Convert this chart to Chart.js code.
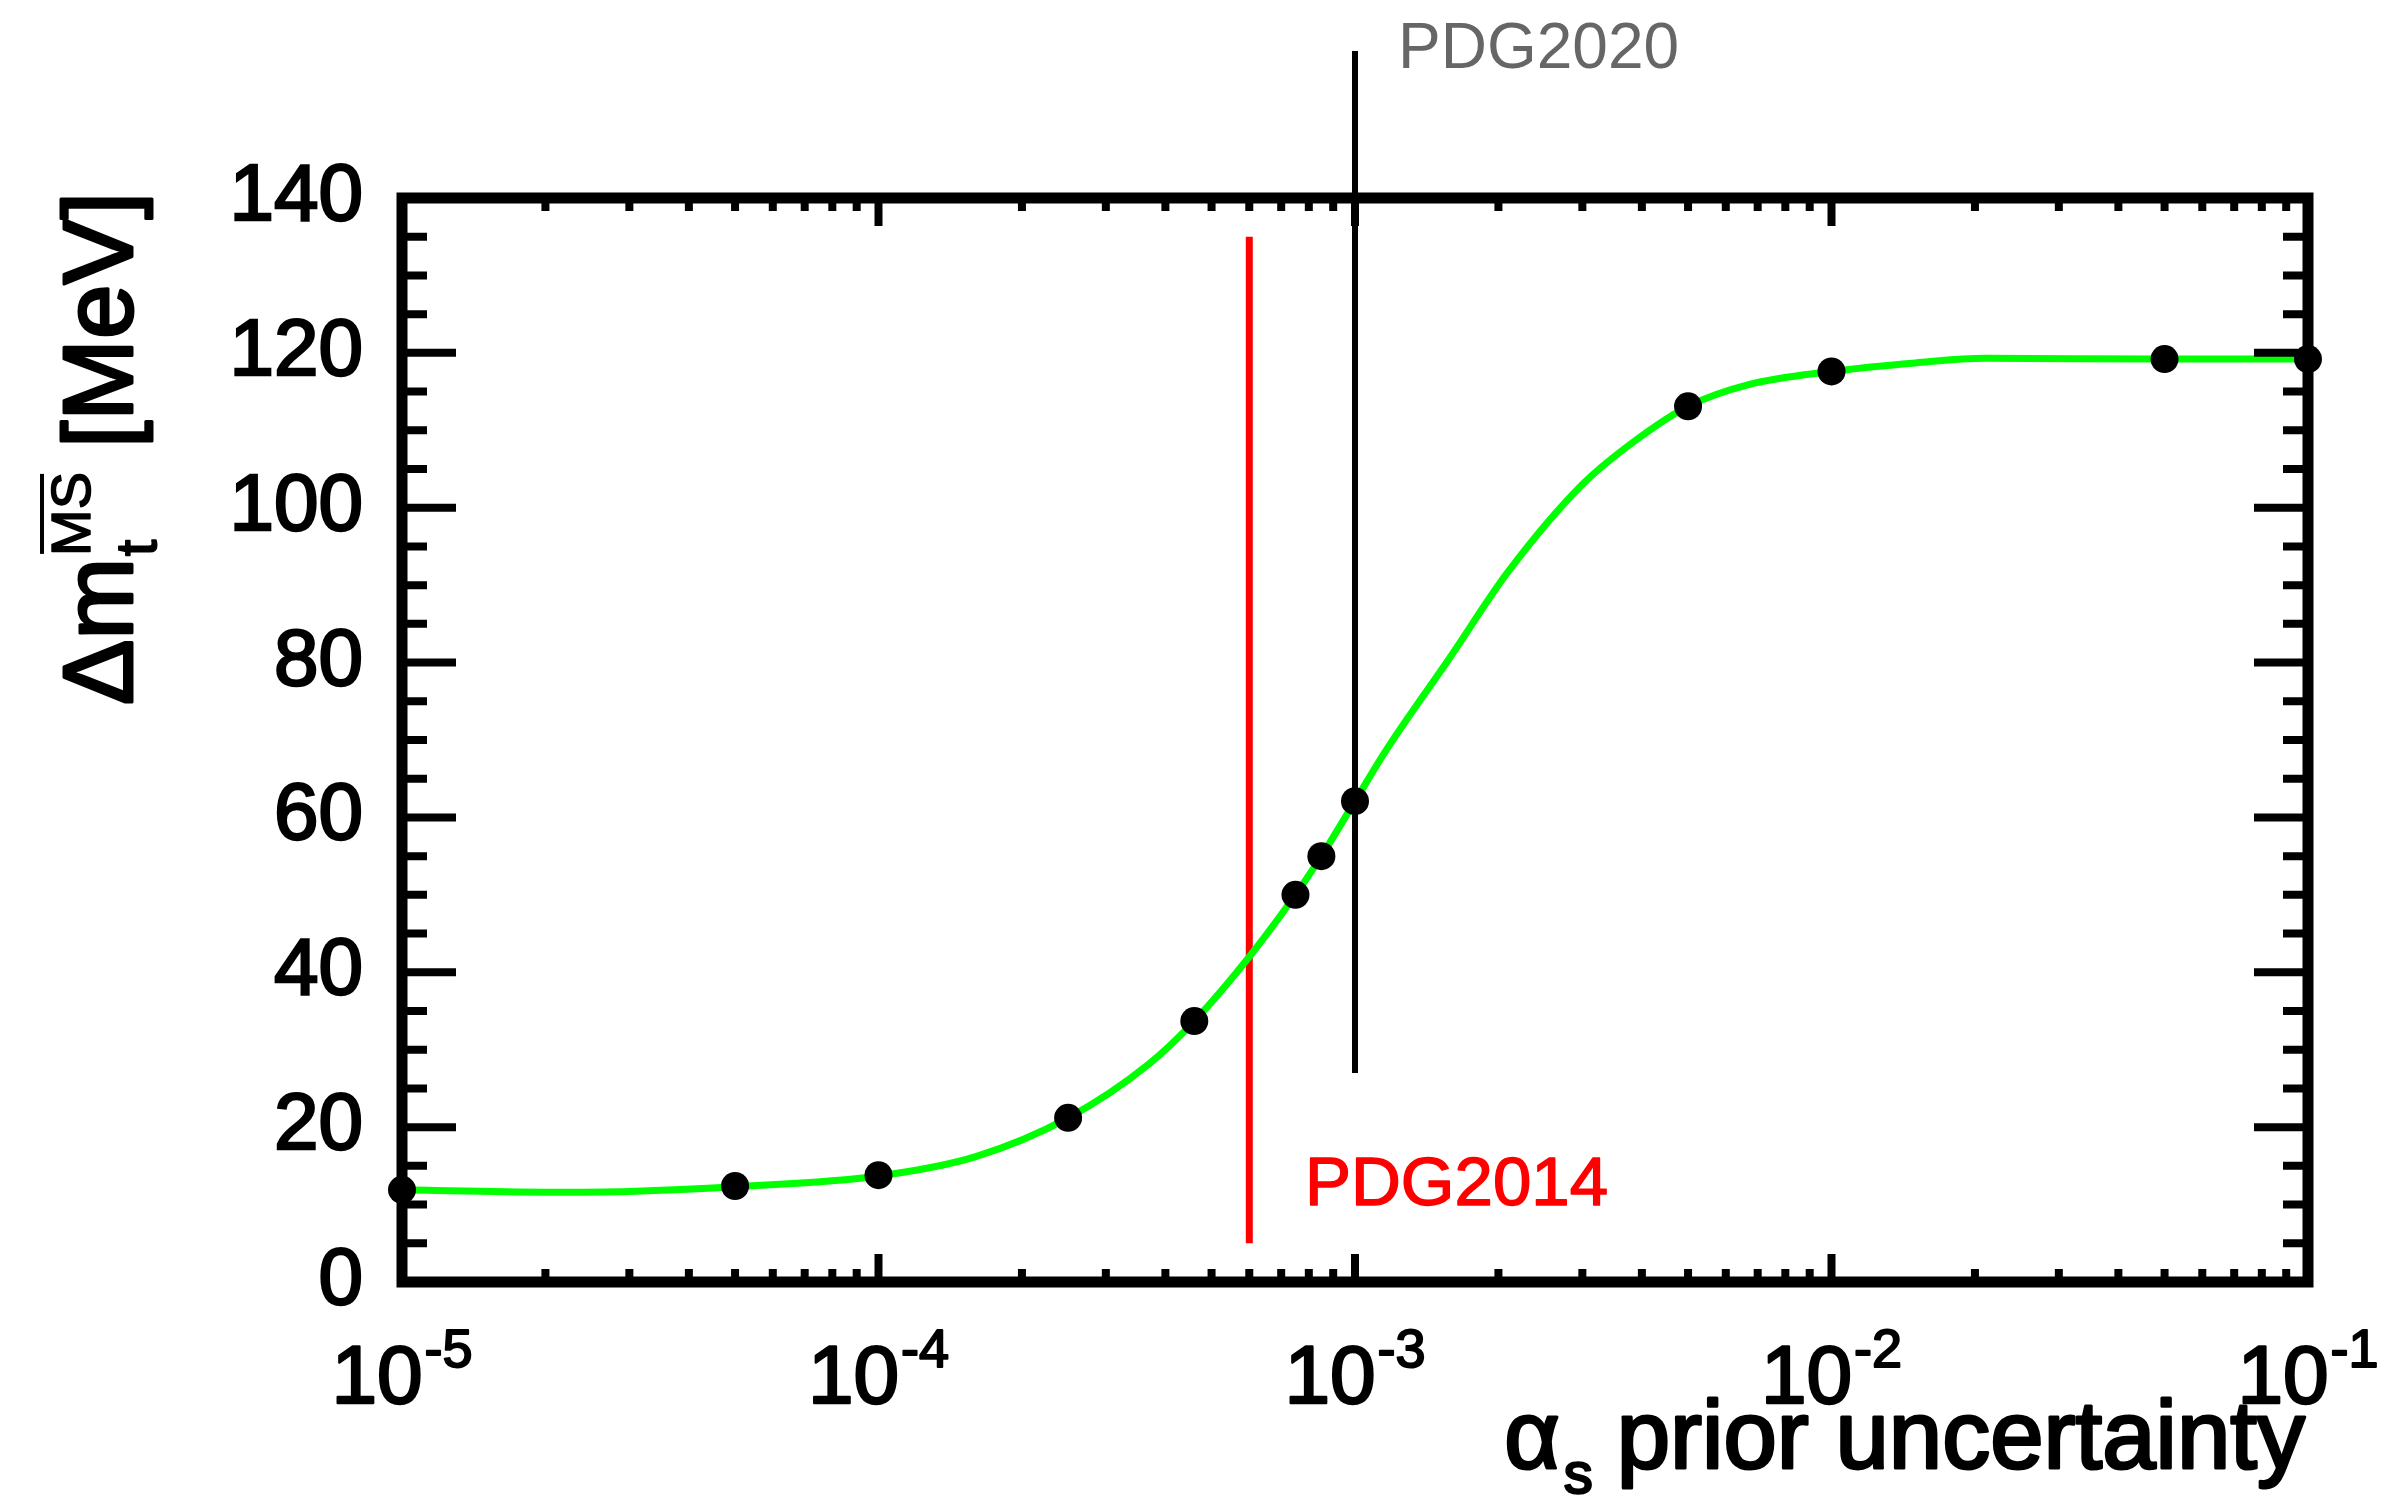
<!DOCTYPE html>
<html>
<head>
<meta charset="utf-8">
<script src="https://cdn.jsdelivr.net/npm/chart.js@4/dist/chart.umd.min.js"></script>
<style>
  html, body { margin: 0; padding: 0; background: #fff; }
  canvas { display: block; }
</style>
</head>
<body>
<canvas id="c" width="2387" height="1501"></canvas>
<script>
// Scan of the alpha_s prior uncertainty: fitted top-mass uncertainty at each setting
const priorUnc = [1e-5, 5e-5, 1e-4, 2.5e-4, 4.6e-4, 7.5e-4, 8.5e-4, 1e-3, 5e-3, 1e-2, 5e-2, 1e-1];
const deltaMt  = [11.9, 12.4, 13.8, 21.2, 33.7, 50.0, 55.0, 62.1, 113.1, 117.6, 119.2, 119.2];

// Smooth parametrisation through the scan (sampled along the drawn curve)
const fitX = [1e-5, 2e-5, 3e-5, 5e-5, 1e-4, 1.6e-4, 2.5e-4, 3.7e-4, 4.6e-4, 6e-4, 7.5e-4, 8.5e-4,
              1e-3, 1.16e-3, 1.58e-3, 2.1e-3, 3e-3, 3.94e-3, 5e-3, 6.7e-3, 1e-2, 1.5e-2, 2.1e-2, 5e-2, 1e-1];
const fitY = [11.9, 11.6, 11.7, 12.3, 13.7, 16.2, 21.2, 28.2, 33.7, 42.0, 50.0, 55.0,
              62.1, 68.6, 80.6, 91.8, 103.0, 109.0, 113.1, 115.9, 117.6, 118.7, 119.3, 119.2, 119.2];

// PDG world-average alpha_s uncertainties
const pdg2014X = [6e-4, 6e-4];
const pdg2014Y = [5, 135];
const pdg2020X = [1e-3, 1e-3];
const pdg2020Y = [27, 159];

// Axis ranges and ticks
const xExponents = [-5, -4, -3, -2, -1];
const yRange = [0, 140];
const yMajorStep = 20;
const yMinorStep = 5;

const FONT = '"Liberation Sans", Arial, Helvetica, sans-serif';
const font = (px) => `${px}px ${FONT}`;
const pts = (xs, ys) => xs.map((x, i) => ({ x, y: ys[i] }));

// filled text with a thin outline of the same colour, for a heavier stroke
function heavyText(ctx, txt, x, y, w) {
  ctx.lineWidth = w;
  ctx.lineJoin = 'round';
  ctx.strokeStyle = ctx.fillStyle;
  ctx.strokeText(txt, x, y);
  ctx.fillText(txt, x, y);
}

const framePlugin = {
  id: 'rootFrame',
  afterDatasetsDraw(chart) {
    const ctx = chart.ctx;
    const { left, right, top, bottom } = chart.chartArea;
    const xs = chart.scales.x, ys = chart.scales.y;
    ctx.save();
    ctx.strokeStyle = '#000';
    ctx.lineCap = 'butt';
    // tick marks on all four sides, pointing inward
    ctx.lineWidth = 8;
    ctx.beginPath();
    for (const e of xExponents) {
      for (let k = 1; k <= 9; k++) {
        const v = k * Math.pow(10, e);
        if (v > xs.max * 1.0001 || v < xs.min * 0.9999) continue;
        const px = xs.getPixelForValue(v);
        const len = k === 1 ? 28 : 13;
        ctx.moveTo(px, bottom); ctx.lineTo(px, bottom - len);
        ctx.moveTo(px, top); ctx.lineTo(px, top + len);
      }
    }
    for (let v = yRange[0]; v <= yRange[1]; v += yMinorStep) {
      const py = ys.getPixelForValue(v);
      const len = v % yMajorStep === 0 ? 54 : 25;
      ctx.moveTo(left, py); ctx.lineTo(left + len, py);
      ctx.moveTo(right, py); ctx.lineTo(right - len, py);
    }
    ctx.stroke();
    // frame
    ctx.lineWidth = 11;
    ctx.strokeRect(left, top, right - left, bottom - top);
    ctx.restore();
  },
  afterDraw(chart) {
    const ctx = chart.ctx;
    const { bottom, right } = chart.chartArea;
    const xs = chart.scales.x;
    ctx.save();
    ctx.fillStyle = '#000';
    ctx.textBaseline = 'alphabetic';
    ctx.textAlign = 'left';

    // x tick labels: 10^n
    for (const e of xExponents) {
      const px = xs.getPixelForValue(Math.pow(10, e));
      ctx.font = font(82);
      const wb = ctx.measureText('10').width;
      ctx.font = font(54);
      const ex = '-' + Math.abs(e);
      const we = ctx.measureText(ex).width;
      const x0 = px - (wb + 2 + we) / 2;
      ctx.font = font(82);
      heavyText(ctx, '10', x0, bottom + 121, 2.5);
      ctx.font = font(54);
      heavyText(ctx, ex, x0 + wb + 2, bottom + 85, 2);
    }

    // x axis title
    const xBase = bottom + 186;
    ctx.font = font(96);
    const mainTxt = 'prior uncertainty';
    const wMain = ctx.measureText(mainTxt).width;
    const xEnd = right - 3;
    const pStart = xEnd - wMain;
    heavyText(ctx, mainTxt, pStart, xBase, 3);
    ctx.font = font(58);
    const ws = ctx.measureText('s').width;
    const sX = pStart - 24 - ws;
    heavyText(ctx, 's', sX, xBase + 25, 2.5);
    ctx.font = font(96);
    const wa = ctx.measureText('\u03B1').width;
    heavyText(ctx, '\u03B1', sX - wa - 4, xBase, 3);

    // y axis title, rotated
    ctx.save();
    ctx.translate(132, 705);
    ctx.rotate(-Math.PI / 2);
    ctx.font = font(98);
    heavyText(ctx, '\u0394m', 0, 0, 3);
    const w1 = ctx.measureText('\u0394m').width;
    ctx.font = font(58);
    heavyText(ctx, 't', w1 + 2, 24, 2);
    const wt = ctx.measureText('t').width;
    ctx.font = font(56);
    heavyText(ctx, 'MS', w1 + 2, -42, 1.5);
    const wms = ctx.measureText('MS').width;
    ctx.fillRect(w1 + 4, -42 - 40 - 10, wms - 4, 4);
    ctx.font = font(98);
    heavyText(ctx, '[MeV]', w1 + 2 + Math.max(wt, wms) + 24, 0, 3);
    ctx.restore();

    // annotations for the vertical markers
    ctx.font = font(69);
    ctx.fillStyle = '#ff0000';
    heavyText(ctx, 'PDG2014', 1305, 1205, 1.5);
    ctx.font = font(64);
    ctx.fillStyle = '#666666';
    ctx.fillText('PDG2020', 1398, 68);
    ctx.restore();
  }
};

new Chart(document.getElementById('c').getContext('2d'), {
  type: 'scatter',
  data: {
    datasets: [
      {
        label: 'scan',
        data: pts(priorUnc, deltaMt),
        showLine: false,
        pointRadius: 14,
        pointBackgroundColor: '#000',
        pointBorderWidth: 0,
        clip: false,
        order: 0
      },
      {
        label: 'fit',
        data: pts(fitX, fitY),
        showLine: true,
        borderColor: '#00ff00',
        borderWidth: 7,
        pointRadius: 0,
        cubicInterpolationMode: 'monotone',
        clip: false,
        order: 1
      },
      {
        label: 'PDG2020',
        data: pts(pdg2020X, pdg2020Y),
        showLine: true,
        borderColor: '#000',
        borderWidth: 6,
        pointRadius: 0,
        clip: false,
        order: 2
      },
      {
        label: 'PDG2014',
        data: pts(pdg2014X, pdg2014Y),
        showLine: true,
        borderColor: '#ff0000',
        borderWidth: 7,
        pointRadius: 0,
        clip: false,
        order: 3
      }
    ]
  },
  options: {
    responsive: false,
    animation: false,
    devicePixelRatio: 1,
    layout: { padding: { top: 198, right: 79, bottom: 219, left: 0 } },
    plugins: { legend: { display: false }, tooltip: { enabled: false } },
    scales: {
      x: { type: 'logarithmic', min: 1e-5, max: 1e-1, display: false },
      y: {
        type: 'linear',
        min: yRange[0],
        max: yRange[1],
        grid: { display: false, drawTicks: false },
        border: { display: false },
        ticks: {
          stepSize: yMajorStep,
          padding: 39,
          color: '#000',
          textStrokeColor: '#000',
          textStrokeWidth: 2.5,
          font: { family: FONT, size: 80 }
        },
        afterFit(scale) { scale.width = 402; }
      }
    }
  },
  plugins: [framePlugin]
});
</script>
</body>
</html>
